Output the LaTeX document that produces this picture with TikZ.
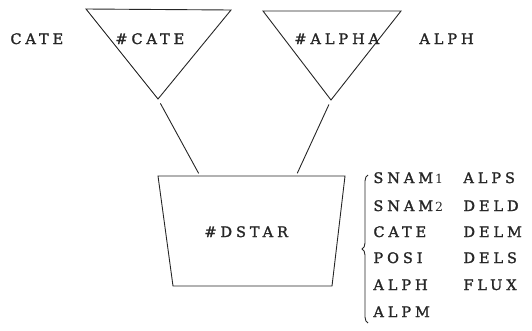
\documentclass[tikz,border=0pt]{standalone}
\usepackage{fontspec}
\setmainfont{DejaVu Serif}
\usetikzlibrary{decorations.pathreplacing,calc}
\definecolor{ink}{HTML}{262626}
\tikzset{
  tree/.style={font=\fontsize{14.5}{17}\selectfont\addfontfeature{LetterSpace=27,FakeBold=1.6},
    text=ink, line width=.9pt, draw=ink},
  tag/.style={inner sep=0pt,anchor=base west},
  store/.style={draw=ink,line width=.9pt,line join=miter},
  link/.style={draw=ink,line width=.9pt,shorten <=5pt,shorten >=3pt},
  brace/.style={draw=ink,line width=.9pt,decorate,decoration={brace,amplitude=6pt}},
}
\newcommand\numpart[1]{{\fontsize{12.5}{14}\selectfont\addfontfeature{FakeBold=0}\,#1}}
\begin{document}
\begin{tikzpicture}[tree,x=1pt,y=1pt]
  \path[use as bounding box] (0,0) rectangle (532,-330);

  % two input files, drawn as downward triangles
  \coordinate (catel) at (86,-9);
  \coordinate (cater) at (231,-10);
  \coordinate (catetip) at (158,-99);
  \draw[store] (catel) -- (cater) -- (catetip) -- cycle;
  \coordinate (alphal) at (263,-11);
  \coordinate (alphar) at (401,-11);
  \coordinate (alphatip) at (331,-100);
  \draw[store] (alphal) -- (alphar) -- (alphatip) -- cycle;

  \node[tag] (catename) at (10,-44) {CATE};
  \node[tag] (catefile) at (115,-44) {\#CATE};
  \node[tag] (alphafile) at (294,-44) {\#ALPHA};
  \node[tag] (alphaname) at (419,-44) {ALPH};

  % output file, a trapezium wider at the top
  \coordinate (dstarnw) at (158,-176);
  \coordinate (dstarne) at (345,-176);
  \coordinate (dstarse) at (332,-286);
  \coordinate (dstarsw) at (173,-286);
  \draw[store] (dstarnw) -- (dstarne) -- (dstarse) -- (dstarsw) -- cycle;
  \node[tag] (dstarfile) at (204,-237) {\#DSTAR};

  \coordinate (catefoot) at ($(dstarnw)!0.225!(dstarne)$);
  \coordinate (alphafoot) at ($(dstarnw)!0.738!(dstarne)$);
  \draw[link] (catetip) -- (catefoot);
  \draw[link] (alphatip) -- (alphafoot);

  % record contents
  \coordinate (bracebot) at (368,-323);
  \coordinate (bracetop) at (368,-175);
  \draw[brace] (bracebot) -- (bracetop);
  \node[tag] (f1) at (373,-183) {SNAM\numpart{1}};
  \node[tag] (f2) at (373,-211) {SNAM\numpart{2}};
  \node[tag] (f3) at (373,-237) {CATE};
  \node[tag] (f4) at (373,-263) {POSI};
  \node[tag] (f5) at (373,-290) {ALPH};
  \node[tag] (f6) at (373,-317) {ALPM};
  \node[tag] (g1) at (463,-183) {ALPS};
  \node[tag] (g2) at (463,-211) {DELD};
  \node[tag] (g3) at (463,-237) {DELM};
  \node[tag] (g4) at (463,-263) {DELS};
  \node[tag] (g5) at (463,-290) {FLUX};
\end{tikzpicture}
\end{document}
